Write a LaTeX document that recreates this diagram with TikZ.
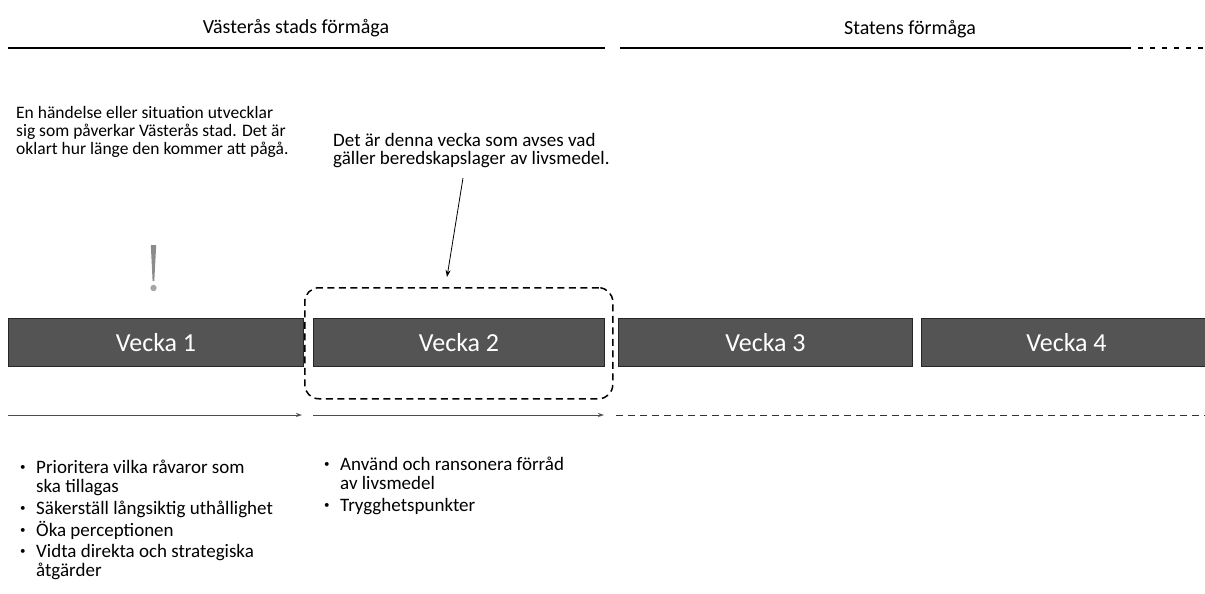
\documentclass[tikz,border=0pt]{standalone}
\usepackage{fontspec}
\setmainfont{Carlito}
\usetikzlibrary{arrows.meta}
\newcommand{\bitem}{\makebox[16pt][l]{\raisebox{3pt}{\fontsize{11}{11}\selectfont•}}}
\begin{document}
\begin{tikzpicture}[x=1pt,y=-1pt,
  week/.style={draw=black!85,line width=1pt,fill=black!67,text=white,font=\fontsize{26}{28}\selectfont,inner sep=0pt,anchor=north west,minimum height=48pt},
  head/.style={font=\fontsize{20}{22}\selectfont,anchor=base},
  note/.style={align=left,anchor=north west,inner sep=0pt},
  blist/.style={font=\fontsize{19}{18.5}\selectfont,align=left,anchor=north west,inner sep=0pt},
  tl/.style={line width=1.2pt},
  flow/.style={draw=black!70,line width=0.6pt,-{Stealth[length=6pt,width=4pt,open]}},
]
\useasboundingbox (0,0) rectangle (1205,594);
% headings
\node[head] (h1) at (296,34) {Västerås stads förmåga};
\node[head] (h2) at (910,35) {Statens förmåga};
\coordinate (l1a) at (8,48); \coordinate (l1b) at (605,48);
\coordinate (l2a) at (620,48); \coordinate (l2b) at (1126,48); \coordinate (l2c) at (1205,48);
\draw[tl] (l1a) -- (l1b);
\draw[tl] (l2a) -- (l2b);
\draw[tl,dash pattern=on 5pt off 7pt] (l2b) -- (l2c);
% notes
\node[note,font=\fontsize{17.5}{18}\selectfont] (n1) at (16,106) {En händelse eller situation utvecklar\\sig som påverkar Västerås stad. Det är\\oklart hur länge den kommer att pågå.};
\node[note,font=\fontsize{19}{18}\selectfont] (n2) at (333,133) {Det är denna vecka som avses vad\\gäller beredskapslager av livsmedel.};
% exclamation
\fill[black!45] (150.8,245) -- (156.2,245) -- (154.3,281) -- (152.6,281) -- cycle;
\fill[black!35] (153.5,288) circle (3.2pt);
% weeks
\node[week,minimum width=295pt] (w1) at (8,318) {Vecka 1};
\node[week,minimum width=291pt] (w2) at (313,318) {Vecka 2};
\node[week,minimum width=294pt] (w3) at (618,318) {Vecka 3};
\node[week,minimum width=290pt] (w4) at (921,318) {Vecka 4};
% dashed highlight
\node[draw,line width=1.5pt,dash pattern=on 7pt off 4.5pt,rounded corners=14pt,minimum width=308pt,minimum height=111pt,anchor=north west,inner sep=0pt] (hl) at (304,287) {};
% pointer
\coordinate (p1) at (463,178);
\coordinate (p2) at (447,277);
\draw[line width=0.8pt,-{Stealth[length=7pt,width=5pt]}] (p1) -- (p2);
% timeline arrows
\coordinate (a1) at (8,415); \coordinate (a2) at (302,415);
\coordinate (b1) at (313,415); \coordinate (b2) at (604,415);
\coordinate (c1) at (616,415); \coordinate (c2) at (1205,415);
\draw[flow] (a1) -- (a2);
\draw[flow] (b1) -- (b2);
\draw[black!80,line width=0.8pt,dash pattern=on 7pt off 5pt] (c1) -- (c2);
% lists
\node[blist] (L1) at (20,460) {%
\bitem Prioritera vilka råvaror som\\
\hspace*{16pt}ska tillagas\\[4pt]
\bitem Säkerställ långsiktig uthållighet\\[3pt]
\bitem Öka perceptionen\\[3pt]
\bitem Vidta direkta och strategiska\\
\hspace*{16pt}åtgärder};
\node[blist] (L2) at (324,457) {%
\bitem Använd och ransonera förråd\\
\hspace*{16pt}av livsmedel\\[4pt]
\bitem Trygghetspunkter};
\end{tikzpicture}
\end{document}
